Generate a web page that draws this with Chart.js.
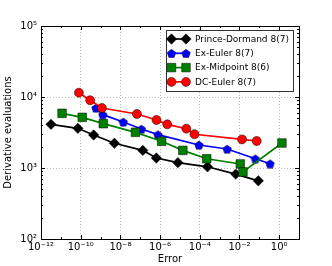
<!DOCTYPE html>
<html>
<head>
<meta charset="utf-8">
<script src="https://cdn.jsdelivr.net/npm/chart.js"></script>
<style>
  html, body { margin: 0; padding: 0; background: #fff; }
</style>
</head>
<body>
<canvas id="myChart" width="332" height="266"></canvas>
<script>
// data (error vs derivative evaluations)
const methodNames = ['Prince-Dormand 8(7)', 'Ex-Euler 8(7)', 'Ex-Midpoint 8(6)', 'DC-Euler 8(7)'];

const pdError = [3.2e-12, 7.2e-11, 4.5e-10, 5.0e-9, 1.35e-7, 6.5e-7, 7.9e-6, 2.45e-4, 6.5e-3, 8.9e-2];
const pdEvals = [4120, 3620, 2920, 2230, 1770, 1380, 1190, 1040, 820, 660];

const exEulerError = [5.9e-10, 1.3e-9, 1.4e-8, 1.15e-7, 7.8e-7, 9.1e-5, 2.4e-3, 6.3e-2, 0.35];
const exEulerEvals = [7000, 5640, 4450, 3540, 2950, 2110, 1850, 1350, 1150];

const exMidError = [1.15e-11, 1.2e-10, 1.38e-9, 5.75e-8, 1.2e-6, 1.4e-5, 2.24e-4, 1.1e-2, 1.5e-2, 1.38];
const exMidEvals = [5890, 5170, 4210, 3180, 2380, 1770, 1350, 1140, 880, 2250];

const dcEulerError = [8.1e-11, 3.0e-10, 1.17e-9, 6.8e-8, 6.6e-7, 2.3e-6, 2.1e-5, 5.4e-5, 1.35e-2, 7.4e-2];
const dcEulerEvals = [11500, 9000, 7000, 5770, 4750, 4120, 3580, 2990, 2530, 2400];

const xTickValues = [1e-12, 1e-10, 1e-8, 1e-6, 1e-4, 1e-2, 1e0];
const yTickValues = [1e2, 1e3, 1e4, 1e5];

const FONT = 'DejaVu Sans';

function toPoints(xs, ys) {
  return xs.map((x, i) => ({ x: x, y: ys[i] }));
}

function sup(n) {
  const map = { '-': '\u207B', '0': '\u2070', '1': '\u00B9', '2': '\u00B2', '3': '\u00B3',
    '4': '\u2074', '5': '\u2075', '6': '\u2076', '7': '\u2077', '8': '\u2078', '9': '\u2079' };
  return String(n).split('').map(c => map[c]).join('');
}

function powLabel(v) {
  return '10' + sup(Math.round(Math.log10(v)));
}

// pentagon marker (no built-in pentagon in Chart.js)
function makePentagon(size, fill) {
  const c = document.createElement('canvas');
  c.width = size; c.height = size;
  const g = c.getContext('2d');
  drawPentagon(g, size / 2, size / 2 + 0.5, size / 2 - 0.5, fill);
  return c;
}

function drawPentagon(g, cx, cy, r, fill) {
  g.beginPath();
  for (let i = 0; i < 5; i++) {
    const a = -Math.PI / 2 + i * 2 * Math.PI / 5;
    const px = cx + r * Math.cos(a), py = cy + r * Math.sin(a);
    if (i === 0) g.moveTo(px, py); else g.lineTo(px, py);
  }
  g.closePath();
  g.fillStyle = fill;
  g.fill();
  g.lineWidth = 0.5;
  g.strokeStyle = '#000';
  g.stroke();
}

const pentagon = makePentagon(10, '#0000ff');

// legend drawn by hand: line with a marker at each end, like matplotlib
function drawMarker(g, kind, x, y, color) {
  g.save();
  g.fillStyle = color;
  g.strokeStyle = '#000';
  g.lineWidth = 0.5;
  g.beginPath();
  if (kind === 'diamond') {
    g.moveTo(x, y - 5.2); g.lineTo(x + 5.2, y); g.lineTo(x, y + 5.2); g.lineTo(x - 5.2, y); g.closePath();
  } else if (kind === 'square') {
    g.rect(x - 4.3, y - 4.3, 8.6, 8.6);
  } else if (kind === 'circle') {
    g.arc(x, y, 4.5, 0, Math.PI * 2);
  } else if (kind === 'pentagon') {
    g.restore();
    drawPentagon(g, x, y + 0.5, 4.5, color);
    return;
  }
  g.fill();
  g.stroke();
  g.restore();
}

const legendItems = [
  { kind: 'diamond', color: '#000000' },
  { kind: 'pentagon', color: '#0000ff' },
  { kind: 'square', color: '#008000' },
  { kind: 'circle', color: '#ff0000' }
];

const framePlugin = {
  id: 'frame',
  afterDraw(chart) {
    const g = chart.ctx;
    const a = chart.chartArea;
    const xs = chart.scales.x, ys = chart.scales.y;
    g.save();
    g.strokeStyle = '#000';
    g.lineWidth = 1;

    // ticks pointing inward on all four sides
    g.beginPath();
    for (let e = -12; e <= 1; e++) {
      const px = Math.round(xs.getPixelForValue(Math.pow(10, e))) + 0.5;
      const len = (e % 2 === 0) ? 4 : 2;
      g.moveTo(px, a.bottom); g.lineTo(px, a.bottom - len);
      g.moveTo(px, a.top); g.lineTo(px, a.top + len);
    }
    for (let e = 2; e <= 5; e++) {
      for (let k = 1; k <= 9; k++) {
        const v = k * Math.pow(10, e);
        if (v > 1e5) break;
        const py = Math.round(ys.getPixelForValue(v)) + 0.5;
        const len = k === 1 ? 4 : 2;
        g.moveTo(a.left, py); g.lineTo(a.left + len, py);
        g.moveTo(a.right, py); g.lineTo(a.right - len, py);
      }
    }
    g.stroke();

    g.strokeRect(Math.round(a.left) + 0.5, Math.round(a.top) + 0.5,
      Math.round(a.right - a.left), Math.round(a.bottom - a.top));

    // legend box
    const lx = 166.5, ly = 30.5, lw = 127, lh = 61;
    g.fillStyle = '#fff';
    g.fillRect(lx, ly, lw, lh);
    g.strokeStyle = '#333';
    g.lineWidth = 1;
    g.strokeRect(lx, ly, lw, lh);

    g.font = '9px "' + FONT + '"';
    g.textBaseline = 'middle';
    g.textAlign = 'left';
    legendItems.forEach((it, i) => {
      const y = 39 + i * 14.3;
      g.strokeStyle = it.color;
      g.lineWidth = 1.7;
      g.beginPath();
      g.moveTo(171, y); g.lineTo(186, y);
      g.stroke();
      drawMarker(g, it.kind, 171.5, y, it.color);
      drawMarker(g, it.kind, 186, y, it.color);
      g.fillStyle = '#000';
      g.fillText(methodNames[i], 195, y + 0.5);
    });
    g.restore();
  }
};

const ctx = document.getElementById('myChart');
const myChart = new Chart(ctx, {
  type: 'line',
  data: {
    datasets: [
      {
        label: methodNames[0],
        data: toPoints(pdError, pdEvals),
        borderColor: '#000000',
        backgroundColor: '#000000',
        pointStyle: 'rectRot',
        pointRadius: 5.2,
        pointBorderColor: '#000',
        pointBorderWidth: 0.5,
        borderWidth: 1.7,
        order: 4
      },
      {
        label: methodNames[1],
        data: toPoints(exEulerError, exEulerEvals),
        borderColor: '#0000ff',
        backgroundColor: '#0000ff',
        pointStyle: pentagon,
        pointRadius: 5,
        borderWidth: 1.7,
        order: 3
      },
      {
        label: methodNames[2],
        data: toPoints(exMidError, exMidEvals),
        borderColor: '#008000',
        backgroundColor: '#008000',
        pointStyle: 'rect',
        pointRadius: 6.1,
        pointBorderColor: '#000',
        pointBorderWidth: 0.5,
        borderWidth: 1.7,
        order: 2
      },
      {
        label: methodNames[3],
        data: toPoints(dcEulerError, dcEulerEvals),
        borderColor: '#ff0000',
        backgroundColor: '#ff0000',
        pointStyle: 'circle',
        pointRadius: 4.5,
        pointBorderColor: '#000',
        pointBorderWidth: 0.5,
        borderWidth: 1.7,
        order: 1
      }
    ]
  },
  options: {
    responsive: false,
    animation: false,
    layout: { padding: { top: 26, right: 33, left: 0, bottom: 0 } },
    plugins: {
      legend: { display: false },
      tooltip: { enabled: false }
    },
    scales: {
      x: {
        type: 'logarithmic',
        min: 1e-12,
        max: 10,
        afterBuildTicks: scale => { scale.ticks = xTickValues.map(v => ({ value: v })); },
        afterFit: scale => { scale.height = 27; },
        ticks: {
          autoSkip: false,
          maxRotation: 0,
          padding: 2,
          color: '#000',
          font: { family: FONT, size: 10 },
          callback: v => powLabel(v)
        },
        grid: { color: '#aaa', lineWidth: 0.8, drawTicks: false },
        border: { display: false, dash: [1, 2] },
        title: {
          display: true,
          text: 'Error',
          color: '#000',
          font: { family: FONT, size: 10 },
          padding: { top: 0, bottom: 1 }
        }
      },
      y: {
        type: 'logarithmic',
        min: 1e2,
        max: 1e5,
        afterBuildTicks: scale => { scale.ticks = yTickValues.map(v => ({ value: v })); },
        afterFit: scale => { scale.width = 41; },
        ticks: {
          autoSkip: false,
          padding: 4,
          color: '#000',
          font: { family: FONT, size: 10 },
          callback: v => powLabel(v)
        },
        grid: { color: '#aaa', lineWidth: 0.8, drawTicks: false },
        border: { display: false, dash: [1, 2] },
        title: {
          display: true,
          text: 'Derivative evaluations',
          color: '#000',
          font: { family: FONT, size: 10 },
          padding: { top: 2, bottom: 0 }
        }
      }
    }
  },
  plugins: [framePlugin]
});
</script>
</body>
</html>
